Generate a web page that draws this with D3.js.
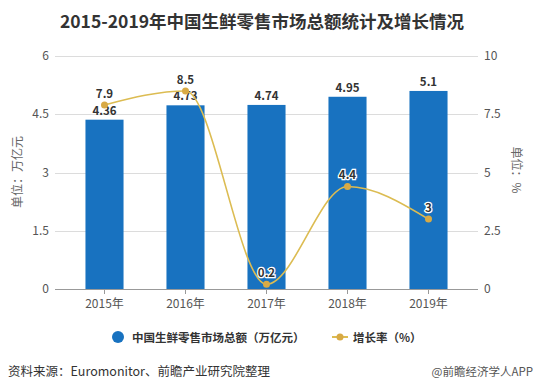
<!DOCTYPE html>
<html>
<head>
<meta charset="utf-8">
<script src="https://cdn.jsdelivr.net/npm/d3@7"></script>
<style>
  body { margin: 0; background: #fff; }
  text { font-family: "Noto Sans CJK SC", "Noto Sans", sans-serif; }
</style>
</head>
<body>
<svg id="chart" width="536" height="391"></svg>
<script>
var years = ["2015年", "2016年", "2017年", "2018年", "2019年"];
var totals = [4.36, 4.73, 4.74, 4.95, 5.1];
var growth = [7.9, 8.5, 0.2, 4.4, 3];
var leftTicks = [0, 1.5, 3, 4.5, 6];
var rightTicks = [0, 2.5, 5, 7.5, 10];

var barColor = "#1872c0",
    lineColor = "#dcbc52",
    dotColor = "#d8aa45";

var svg = d3.select("#chart");

var gridLeft = 55, gridRight = 478,
    plotTop = 56, plotBottom = 289;

var x = d3.scaleBand().domain(years).range([64, 469]).paddingInner(0.53).paddingOuter(0.265);
var y = d3.scaleLinear().domain([0, 6]).range([plotBottom, plotTop]);
var y2 = d3.scaleLinear().domain([0, 10]).range([plotBottom, plotTop]);

// title
svg.append("text")
    .attr("x", 262).attr("y", 28)
    .attr("text-anchor", "middle")
    .attr("font-size", "17.5px")
    .attr("font-weight", "bold")
    .attr("fill", "#333")
    .text("2015-2019年中国生鲜零售市场总额统计及增长情况");

// grid lines
svg.append("g").selectAll("line")
    .data(leftTicks.slice(1))
    .enter().append("line")
    .attr("x1", gridLeft).attr("x2", gridRight)
    .attr("y1", function(d) { return Math.round(y(d)) + 0.5; })
    .attr("y2", function(d) { return Math.round(y(d)) + 0.5; })
    .attr("stroke", "#dcdcdc");

// left axis labels
svg.append("g").selectAll("text")
    .data(leftTicks)
    .enter().append("text")
    .attr("x", 49)
    .attr("y", function(d) { return y(d) + 4; })
    .attr("text-anchor", "end")
    .attr("font-size", "12px")
    .attr("fill", "#555")
    .text(function(d) { return d; });

// right axis labels
svg.append("g").selectAll("text")
    .data(rightTicks)
    .enter().append("text")
    .attr("x", 484)
    .attr("y", function(d) { return y2(d) + 4; })
    .attr("font-size", "12px")
    .attr("fill", "#555")
    .text(function(d) { return d; });

svg.append("text")
    .attr("transform", "translate(22," + 172 + ") rotate(-90)")
    .attr("text-anchor", "middle")
    .attr("font-size", "12px")
    .attr("fill", "#666")
    .text("单位：万亿元");

svg.append("text")
    .attr("transform", "translate(512," + 170 + ") rotate(90)")
    .attr("text-anchor", "middle")
    .attr("font-size", "12px")
    .attr("fill", "#666")
    .text("单位：%");

// bars
svg.append("g").selectAll("rect")
    .data(totals)
    .enter().append("rect")
    .attr("x", function(d, i) { return x(years[i]); })
    .attr("y", function(d) { return y(d); })
    .attr("width", x.bandwidth())
    .attr("height", function(d) { return y(0) - y(d); })
    .attr("fill", barColor);

// x axis
var xAxis = d3.axisBottom(x).tickSize(5).tickSizeOuter(0);
var gx = svg.append("g")
    .attr("transform", "translate(0," + plotBottom + ")")
    .call(xAxis);
gx.select(".domain").remove();
gx.append("line")
    .attr("x1", gridLeft).attr("x2", gridRight)
    .attr("y1", 0.5).attr("y2", 0.5)
    .attr("stroke", "#999");
gx.selectAll(".tick line").attr("stroke", "#999");
gx.selectAll(".tick text")
    .attr("font-size", "12px")
    .attr("fill", "#555")
    .attr("dy", "0.9em")
    .style("font-family", "'Noto Sans CJK SC', sans-serif");

// bar value labels
svg.append("g").selectAll("text")
    .data(totals)
    .enter().append("text")
    .attr("x", function(d, i) { return x(years[i]) + x.bandwidth() / 2; })
    .attr("y", function(d) { return y(d) - 5; })
    .attr("text-anchor", "middle")
    .attr("font-size", "11.5px")
    .attr("font-weight", "bold")
    .attr("fill", "#333")
    .text(function(d) { return d; });

// growth line
var line = d3.line()
    .x(function(d, i) { return x(years[i]) + x.bandwidth() / 2; })
    .y(function(d) { return y2(d); })
    .curve(d3.curveMonotoneX);

svg.append("path")
    .datum(growth)
    .attr("d", line)
    .attr("fill", "none")
    .attr("stroke", lineColor)
    .attr("stroke-width", 1.6);

svg.append("g").selectAll("circle")
    .data(growth)
    .enter().append("circle")
    .attr("cx", function(d, i) { return x(years[i]) + x.bandwidth() / 2; })
    .attr("cy", function(d) { return y2(d); })
    .attr("r", 3.5)
    .attr("fill", dotColor);

svg.append("g").selectAll("text")
    .data(growth)
    .enter().append("text")
    .attr("x", function(d, i) { return x(years[i]) + x.bandwidth() / 2; })
    .attr("y", function(d) { return y2(d) - 7; })
    .attr("text-anchor", "middle")
    .attr("font-size", "11.5px")
    .attr("font-weight", "bold")
    .attr("fill", "#333")
    .attr("stroke", "#fff")
    .attr("stroke-width", 2.5)
    .attr("paint-order", "stroke")
    .text(function(d) { return d; });

// legend
var legend = svg.append("g");
legend.append("circle")
    .attr("cx", 118).attr("cy", 337).attr("r", 6)
    .attr("fill", barColor);
legend.append("text")
    .attr("x", 132).attr("y", 341.5)
    .attr("font-size", "11.5px")
    .attr("font-weight", "bold")
    .attr("fill", "#333")
    .text("中国生鲜零售市场总额（万亿元）");
legend.append("line")
    .attr("x1", 332).attr("x2", 348)
    .attr("y1", 337).attr("y2", 337)
    .attr("stroke", lineColor)
    .attr("stroke-width", 2);
legend.append("circle")
    .attr("cx", 340).attr("cy", 337).attr("r", 3.5)
    .attr("fill", dotColor);
legend.append("text")
    .attr("x", 353).attr("y", 341.5)
    .attr("font-size", "11.5px")
    .attr("font-weight", "bold")
    .attr("fill", "#333")
    .text("增长率（%）");

// footer
svg.append("text")
    .attr("x", 8).attr("y", 376)
    .attr("font-size", "12.5px")
    .attr("fill", "#333")
    .text("资料来源：Euromonitor、前瞻产业研究院整理");
svg.append("text")
    .attr("x", 533).attr("y", 376)
    .attr("text-anchor", "end")
    .attr("font-size", "11.5px")
    .attr("fill", "#555")
    .text("@前瞻经济学人APP");
</script>
</body>
</html>
